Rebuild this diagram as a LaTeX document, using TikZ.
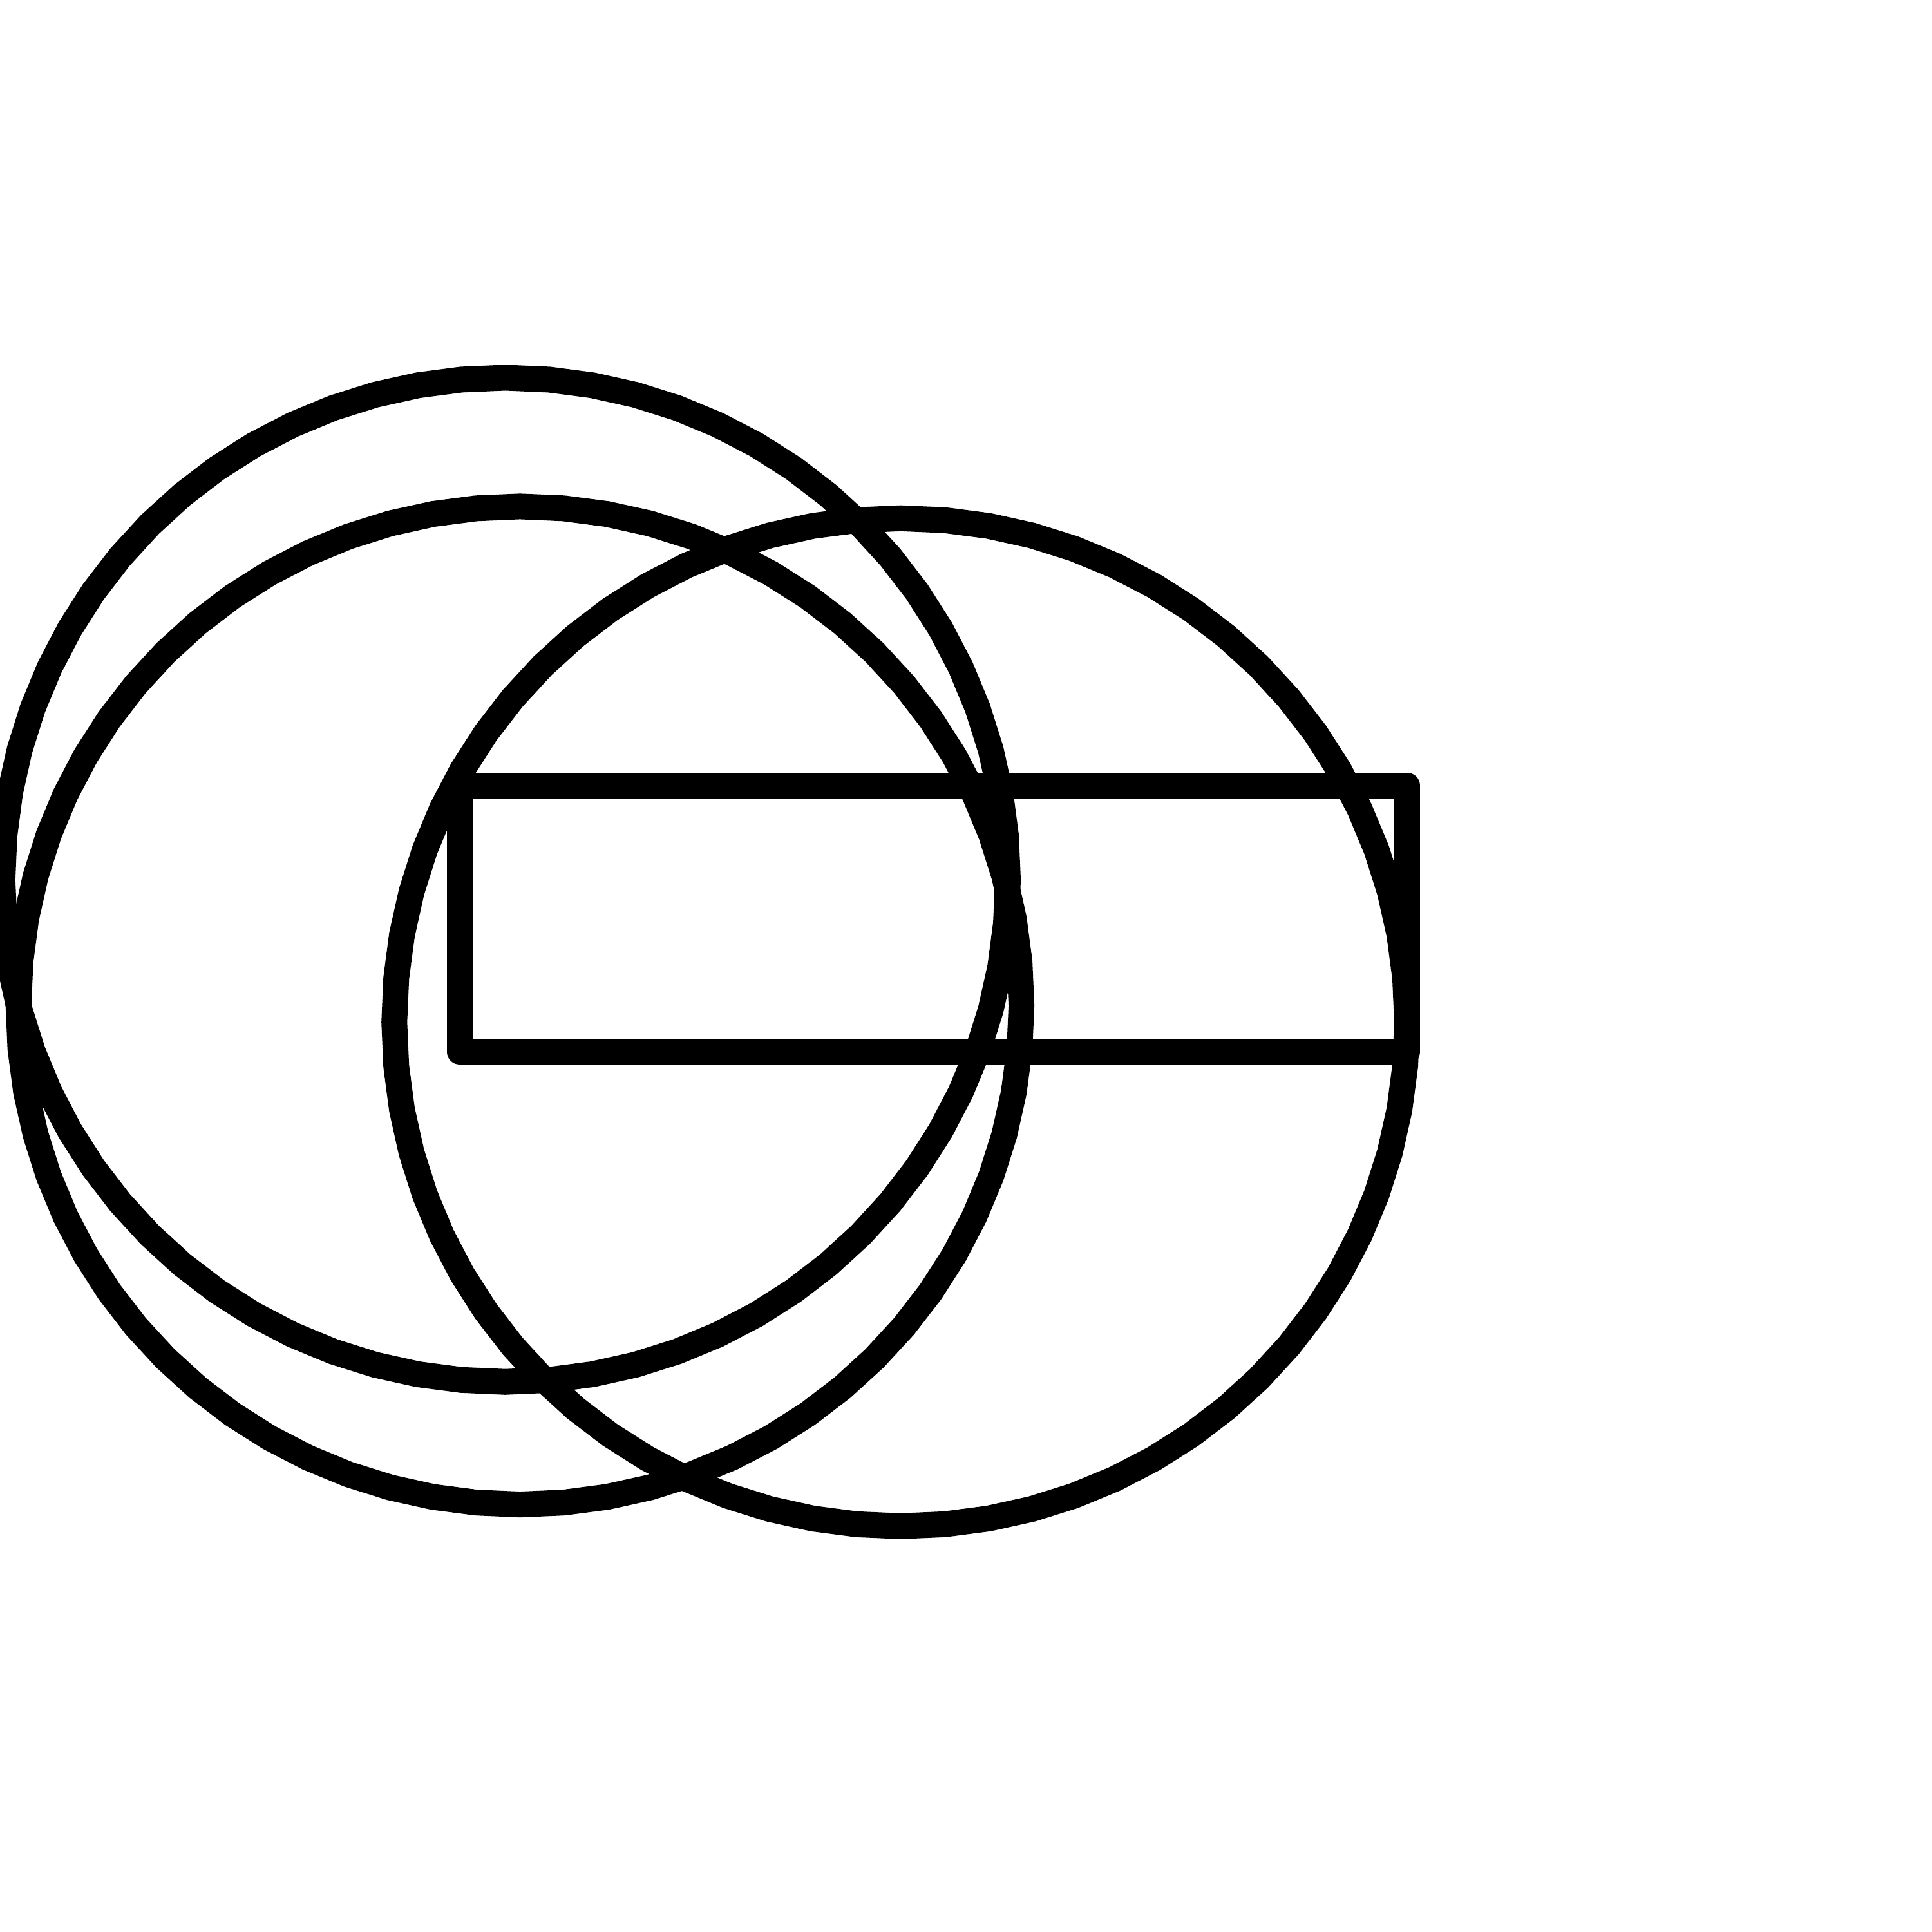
\documentclass[tikz,border=0pt]{standalone}
\begin{document}
\begin{tikzpicture}[x=0.01cm,y=-0.01cm,
  ring/.style={draw=black,line width=5.95pt,line join=miter},
  bar/.style={draw=black,line width=5.95pt,line join=round}]
\useasboundingbox (0,0) rectangle (1568,1568);
\clip (0,0) rectangle (1568,1568);
\fill[white] (0,0) rectangle (1568,1568);
% three 72-sided rings
\draw[ring] plot[samples=73,domain=0:360] ({410+408*cos(\x)},{714+407.5*sin(\x)}) -- cycle;
\draw[ring] plot[samples=73,domain=0:360] ({422+407*cos(\x)},{816+405*sin(\x)}) -- cycle;
\draw[ring] plot[samples=73,domain=0:360] ({731+411*cos(\x)},{829.6+409*sin(\x)}) -- cycle;
% rectangle
\draw[bar] (373,637.5) rectangle (1142,853.5);
\end{tikzpicture}
\end{document}
